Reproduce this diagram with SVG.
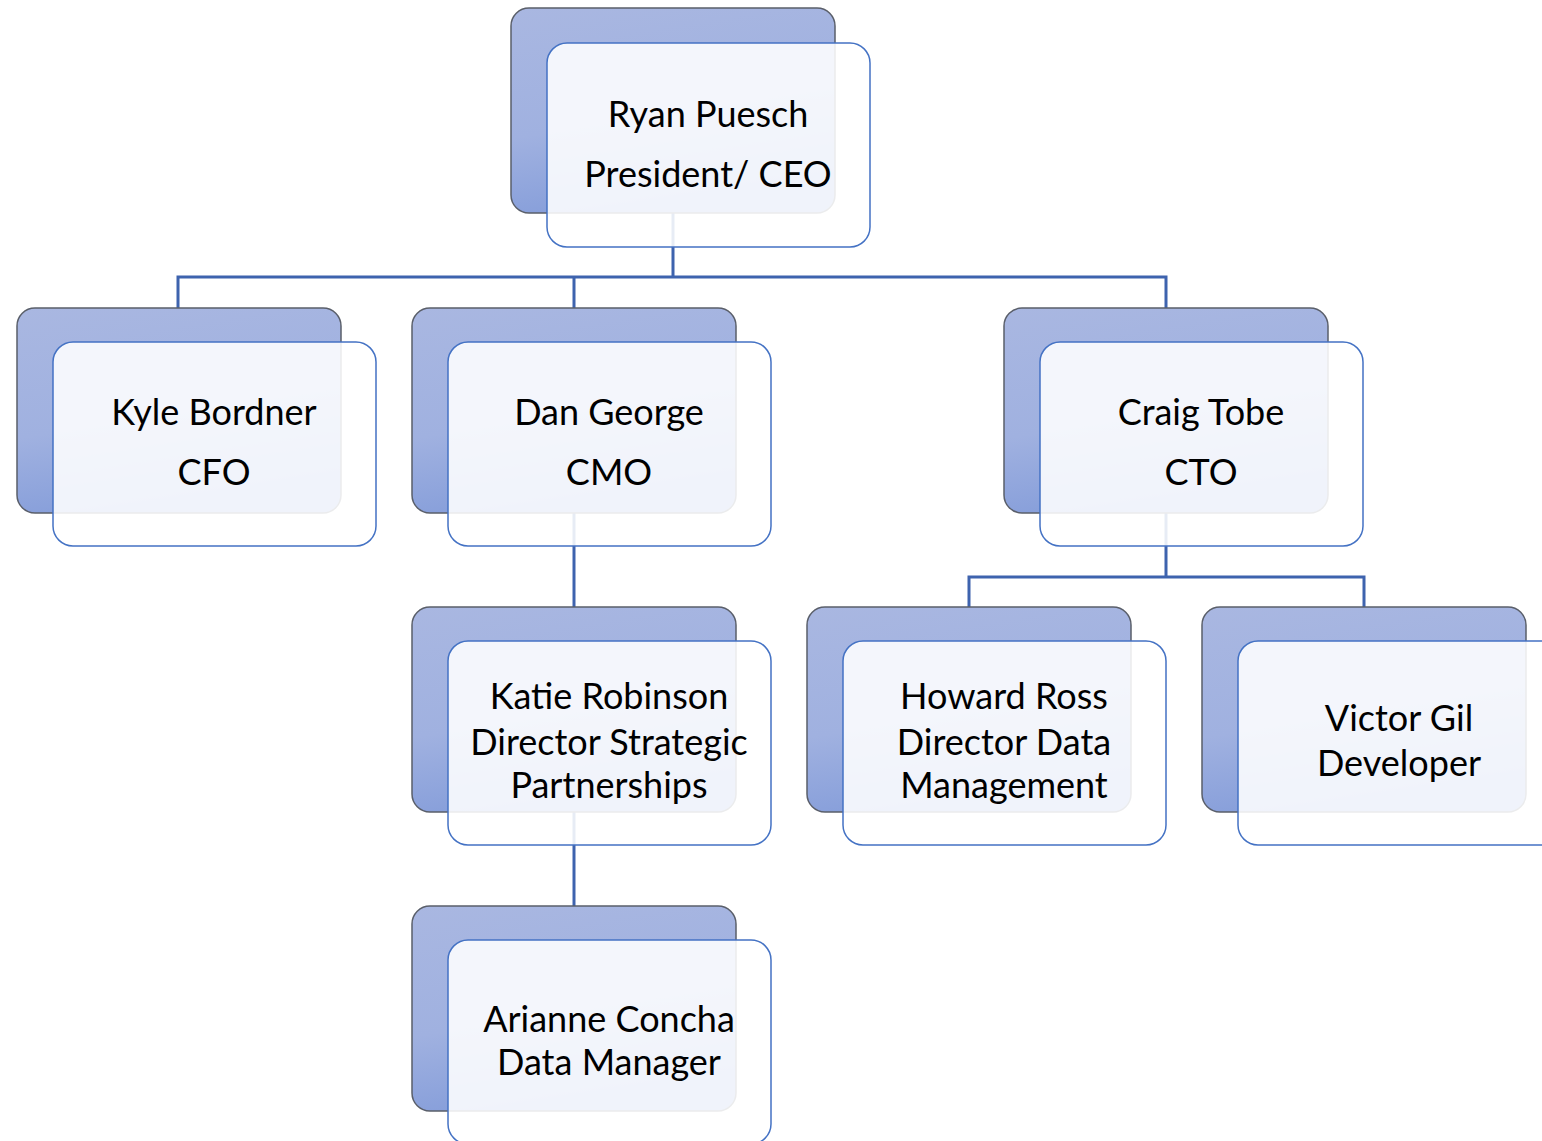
<svg xmlns="http://www.w3.org/2000/svg" width="1542" height="1141" viewBox="0 0 1542 1141">
<defs>
<linearGradient id="bg" x1="0" y1="0" x2="0.25" y2="1">
<stop offset="0" stop-color="#A9B7E1"/>
<stop offset="0.6" stop-color="#A0B1E0"/>
<stop offset="1" stop-color="#869EDA"/>
</linearGradient>
<style>
.back{fill:url(#bg);stroke:#5A5F6A;stroke-width:1.5}
.front{fill:#FFFFFF;fill-opacity:0.88;stroke:#4472C4;stroke-width:1.5}
.conn{fill:none;stroke:#3E63AE;stroke-width:3}
text{font-family:Lato,"Liberation Sans",sans-serif;font-size:36px;fill:#000;text-anchor:middle}
</style>
</defs>
<rect width="1542" height="1141" fill="#FFFFFF"/>
<g id="connectors">
<path class="conn" d="M673 213V277M178 308V277H1166V308M574 277V308"/>
<path class="conn" d="M574 513V607"/>
<path class="conn" d="M574 812V906"/>
<path class="conn" d="M1166 513V577M969 607V577H1364V607"/>
</g>
<g id="ceo">
<rect class="back" x="511" y="8" width="324" height="205" rx="18"/>
<rect class="front" x="547" y="43" width="323" height="204" rx="20"/>
<text x="708" y="127">Ryan Puesch</text>
<text x="708" y="187">President/ CEO</text>
</g>
<g id="cfo">
<rect class="back" x="17" y="308" width="324" height="205" rx="18"/>
<rect class="front" x="53" y="342" width="323" height="204" rx="20"/>
<text x="214" y="425">Kyle Bordner</text>
<text x="214" y="485">CFO</text>
</g>
<g id="cmo">
<rect class="back" x="412" y="308" width="324" height="205" rx="18"/>
<rect class="front" x="448" y="342" width="323" height="204" rx="20"/>
<text x="609" y="425">Dan George</text>
<text x="609" y="485">CMO</text>
</g>
<g id="cto">
<rect class="back" x="1004" y="308" width="324" height="205" rx="18"/>
<rect class="front" x="1040" y="342" width="323" height="204" rx="20"/>
<text x="1201" y="425">Craig Tobe</text>
<text x="1201" y="485">CTO</text>
</g>
<g id="katie">
<rect class="back" x="412" y="607" width="324" height="205" rx="18"/>
<rect class="front" x="448" y="641" width="323" height="204" rx="20"/>
<text x="609" y="709">Katie Robinson</text>
<text x="609" y="755">Director Strategic</text>
<text x="609" y="798">Partnerships</text>
</g>
<g id="howard">
<rect class="back" x="807" y="607" width="324" height="205" rx="18"/>
<rect class="front" x="843" y="641" width="323" height="204" rx="20"/>
<text x="1004" y="709">Howard Ross</text>
<text x="1004" y="755">Director Data</text>
<text x="1004" y="798">Management</text>
</g>
<g id="victor">
<rect class="back" x="1202" y="607" width="324" height="205" rx="18"/>
<rect class="front" x="1238" y="641" width="323" height="204" rx="20"/>
<text x="1399" y="731">Victor Gil</text>
<text x="1399" y="776">Developer</text>
</g>
<g id="arianne">
<rect class="back" x="412" y="906" width="324" height="205" rx="18"/>
<rect class="front" x="448" y="940" width="323" height="204" rx="20"/>
<text x="609" y="1032">Arianne Concha</text>
<text x="609" y="1075">Data Manager</text>
</g>
</svg>
